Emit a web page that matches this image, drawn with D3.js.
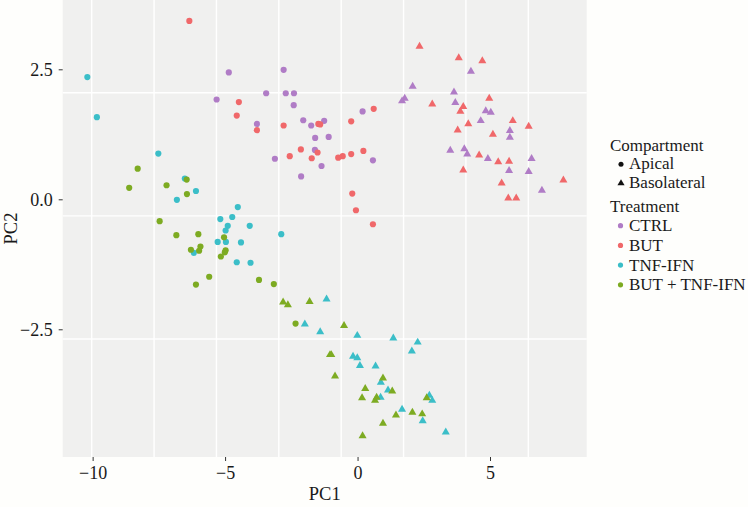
<!DOCTYPE html>
<html lang="en">
<head>
<meta charset="UTF-8">
<title>PCA PC1 vs PC2</title>
<script src="https://d3js.org/d3.v7.min.js"></script>
<style>
  body { margin: 0; background: #fefefc; }
  text { font-family: "Liberation Serif", "DejaVu Serif", serif; fill: #1a1a1a; }
</style>
</head>
<body>
<svg id="chart" width="748" height="507"></svg>
<script>
// treatments and compartments
const treatments = ['CTRL', 'BUT', 'TNF-IFN', 'BUT + TNF-IFN'];
const treatmentColors = ['#b07cc6', '#f0686a', '#3bbec8', '#7dab22'];
const compartments = ['Apical', 'Basolateral'];

// PC1 / PC2 scores, one array per group
const ctrlApical = [[-4.86,2.44],[-2.79,2.49],[-3.45,2.04],[-2.71,2.04],[-2.40,2.04],[-5.32,1.92],[-2.41,1.81],[-3.80,1.45],[-2.05,1.52],[-1.75,1.42],[-1.26,1.51],[-1.60,1.18],[-1.09,1.20],[-1.61,0.95],[-3.12,0.78],[-1.36,0.64],[-2.13,0.44],[0.19,1.69],[0.58,0.75]];
const butApical = [[-6.35,3.43],[-4.48,1.87],[-4.56,1.61],[-3.80,1.33],[-2.79,1.42],[-1.48,1.45],[-1.41,1.44],[-2.14,0.96],[-2.56,0.83],[-1.51,0.90],[-1.73,0.79],[-0.73,0.80],[-0.56,0.83],[-0.24,0.87],[0.22,0.93],[-0.24,1.50],[0.61,1.74],[-0.20,0.11],[-0.06,-0.21],[0.58,-0.48]];
const tnfApical = [[-10.20,2.35],[-9.84,1.58],[-7.52,0.88],[-6.52,0.40],[-6.10,0.16],[-6.82,-0.01],[-4.52,-0.15],[-4.73,-0.34],[-5.18,-0.38],[-4.90,-0.51],[-4.98,-0.60],[-4.07,-0.51],[-5.28,-0.82],[-4.97,-0.82],[-4.40,-0.83],[-6.18,-1.03],[-4.56,-1.21],[-4.04,-1.22],[-2.88,-0.67]];
const butTnfApical = [[-8.30,0.59],[-8.62,0.22],[-7.21,0.27],[-6.45,0.38],[-6.44,0.10],[-7.47,-0.42],[-6.84,-0.69],[-6.01,-0.67],[-5.93,-0.91],[-5.98,-0.99],[-6.29,-0.97],[-5.04,-0.73],[-4.98,-0.98],[-5.01,-1.02],[-5.16,-1.10],[-5.60,-1.49],[-6.10,-1.64],[-3.72,-1.55],[-3.16,-1.63],[-2.34,-2.39]];
const ctrlBaso = [[4.28,2.46],[2.08,2.17],[1.78,1.94],[1.68,1.89],[3.64,2.06],[3.69,1.86],[4.84,1.70],[5.03,1.67],[4.65,1.51],[5.75,1.32],[5.75,1.19],[3.50,0.94],[4.03,0.97],[4.14,0.87],[4.92,0.78],[6.57,0.78],[5.72,0.55],[6.46,0.53],[6.96,0.17]];
const butBaso = [[2.34,2.94],[3.82,2.72],[4.71,2.66],[2.82,1.83],[4.97,1.94],[3.99,1.78],[3.88,1.69],[4.18,1.45],[3.78,1.33],[5.86,1.51],[6.46,1.40],[5.11,1.25],[4.59,0.85],[5.31,0.72],[5.72,0.73],[3.99,0.56],[5.44,0.31],[5.69,0.02],[5.99,0.02],[7.77,0.37]];
const tnfBaso = [[-1.17,-1.92],[-1.99,-2.40],[-1.41,-2.55],[-0.01,-2.62],[1.35,-2.67],[2.27,-2.75],[2.05,-2.92],[-0.17,-3.02],[-0.01,-3.05],[0.09,-3.20],[0.68,-3.21],[0.88,-3.52],[1.15,-3.67],[0.87,-3.81],[2.71,-3.77],[2.82,-3.87],[1.68,-4.04],[2.46,-4.26],[3.33,-4.48]];
const butTnfBaso = [[-2.81,-1.98],[-2.63,-2.03],[-1.81,-1.97],[-0.51,-2.43],[-1.04,-2.99],[-0.99,-2.99],[-0.85,-3.40],[0.96,-3.44],[0.29,-3.64],[1.31,-3.69],[0.17,-3.82],[0.66,-3.87],[0.72,-3.81],[2.61,-3.82],[1.45,-4.15],[2.07,-4.10],[2.44,-4.13],[0.96,-4.31],[0.19,-4.55]];

// axis ticks
const xTicks = [-10, -5, 0, 5];
const yTicks = [2.5, 0, -2.5];
const gridXValues = [-10, -7.5, -5, -2.5, 0, 2.5, 5, 7.5];
const gridYValues = [2.5, 0, -2.5];

const groups = [
  { treatment: 'CTRL', compartment: 'Apical', values: ctrlApical },
  { treatment: 'BUT', compartment: 'Apical', values: butApical },
  { treatment: 'TNF-IFN', compartment: 'Apical', values: tnfApical },
  { treatment: 'BUT + TNF-IFN', compartment: 'Apical', values: butTnfApical },
  { treatment: 'CTRL', compartment: 'Basolateral', values: ctrlBaso },
  { treatment: 'BUT', compartment: 'Basolateral', values: butBaso },
  { treatment: 'TNF-IFN', compartment: 'Basolateral', values: tnfBaso },
  { treatment: 'BUT + TNF-IFN', compartment: 'Basolateral', values: butTnfBaso }
];

const svg = d3.select('#chart');
const panel = { left: 62.7, right: 586.7, top: 0, bottom: 457 };

const x = d3.scaleLinear().domain([-11.13, 8.65]).range([panel.left, panel.right]);
const y = d3.scaleLinear().domain([-4.956, 3.833]).range([panel.bottom, panel.top]);
// the panel background grid in the source figure is drawn slightly off the axis ticks
const gridX = d3.scaleLinear().domain([-10, 7.5]).range([91.7, 528.3]);
const gridY = d3.scaleLinear().domain([2.5, -2.5]).range([92.7, 339]);

const color = d3.scaleOrdinal().domain(treatments).range(treatmentColors);
const shape = d3.scaleOrdinal().domain(compartments).range([d3.symbolCircle, d3.symbolTriangle]);
const shapeSize = d3.scaleOrdinal().domain(compartments).range([30, 28]);

// panel background
svg.append('rect')
  .attr('x', panel.left).attr('y', panel.top)
  .attr('width', panel.right - panel.left).attr('height', panel.bottom - panel.top)
  .attr('fill', '#f0f0ef');

svg.append('g').selectAll('line')
  .data(gridXValues).enter().append('line')
  .attr('x1', d => gridX(d)).attr('x2', d => gridX(d))
  .attr('y1', panel.top).attr('y2', panel.bottom)
  .attr('stroke', '#fff').attr('stroke-width', 1.4);

svg.append('g').selectAll('line')
  .data(gridYValues).enter().append('line')
  .attr('y1', d => gridY(d)).attr('y2', d => gridY(d))
  .attr('x1', panel.left).attr('x2', panel.right)
  .attr('stroke', '#fff').attr('stroke-width', 1.4);

// points
groups.forEach(g => {
  svg.append('g').selectAll('path')
    .data(g.values).enter().append('path')
    .attr('transform', d => `translate(${x(d[0])},${y(d[1])})`)
    .attr('d', d3.symbol().type(shape(g.compartment)).size(shapeSize(g.compartment)))
    .attr('fill', color(g.treatment));
});

// axes
const fmtX = d => d < 0 ? '\u2212' + Math.abs(d) : String(d);
const fmtY = d => d < 0 ? '\u2212' + Math.abs(d).toFixed(1) : d.toFixed(1);

const xAxis = svg.append('g')
  .attr('transform', `translate(0,${panel.bottom})`)
  .call(d3.axisBottom(x).tickValues(xTicks).tickFormat(fmtX).tickSize(4).tickPadding(5));
xAxis.select('.domain').remove();
xAxis.selectAll('line').attr('stroke', '#333');
xAxis.selectAll('text').style('font-size', '18px').attr('fill', '#1a1a1a');

const yAxis = svg.append('g')
  .attr('transform', `translate(${panel.left},0)`)
  .call(d3.axisLeft(y).tickValues(yTicks).tickFormat(fmtY).tickSize(4).tickPadding(6));
yAxis.select('.domain').remove();
yAxis.selectAll('line').attr('stroke', '#333');
yAxis.selectAll('text').style('font-size', '18px').attr('fill', '#1a1a1a');

svg.append('text')
  .attr('x', (panel.left + panel.right) / 2).attr('y', 500)
  .attr('text-anchor', 'middle').style('font-size', '18.5px')
  .text('PC1');

svg.append('text')
  .attr('transform', `translate(16.5,${(panel.top + panel.bottom) / 2}) rotate(-90)`)
  .attr('text-anchor', 'middle').style('font-size', '18.5px')
  .text('PC2');

// legend
const legend = svg.append('g');
legend.append('text').attr('x', 610).attr('y', 150.7).style('font-size', '17px').text('Compartment');
compartments.forEach((c, i) => {
  const cy = 164.3 + i * 19;
  legend.append('path')
    .attr('transform', `translate(621,${cy})`)
    .attr('d', d3.symbol().type(shape(c)).size(c === 'Apical' ? 20 : 22))
    .attr('fill', '#111');
  legend.append('text').attr('x', 629).attr('y', cy + 5).style('font-size', '17px').text(c);
});

legend.append('text').attr('x', 610).attr('y', 212.3).style('font-size', '17px').text('Treatment');
treatments.forEach((t, i) => {
  const cy = 225.7 + i * 19.7;
  legend.append('circle').attr('cx', 620.5).attr('cy', cy).attr('r', 2.6).attr('fill', color(t));
  legend.append('text').attr('x', 629).attr('y', cy + 5.5).style('font-size', '17px').text(t);
});
</script>
</body>
</html>
